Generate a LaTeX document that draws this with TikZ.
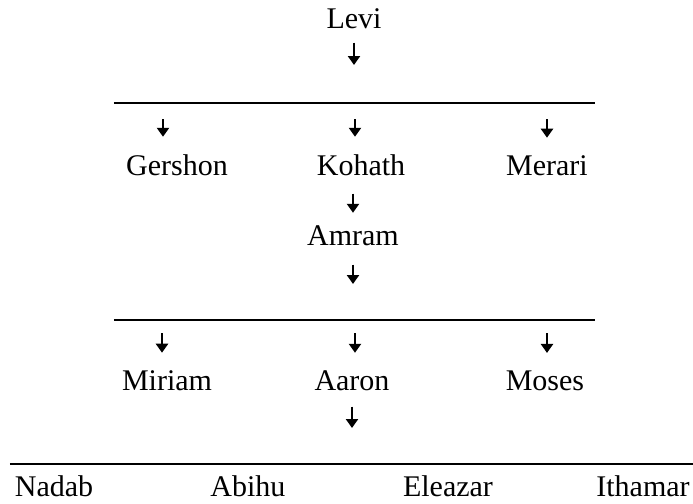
\documentclass[tikz,border=0pt]{standalone}
\usepackage{fontspec}
\setmainfont{Liberation Serif}
\usepackage{tikz}
\usetikzlibrary{arrows.meta}
\tikzstyle{person} = [inner sep=0pt, anchor=base, font=\fontsize{15}{18}\selectfont]
\tikzstyle{bar} = [line width=0.9pt]
\tikzstyle{arrow} = [line width=1.3pt, -{Triangle[width=6pt,length=4.5pt]}]

\begin{document}
\begin{tikzpicture}[x=0.5pt, y=-0.5pt]
            \useasboundingbox (0,0) rectangle (693,504);
            % generations
            \node (levi) [person] at (354,28) {Levi};
            \node (gershon) [person] at (177,175) {Gershon};
            \node (kohath) [person] at (361,175) {Kohath};
            \node (merari) [person] at (547,175) {Merari};
            \node (amram) [person] at (353,245) {Amram};
            \node (miriam) [person] at (167,390) {Miriam};
            \node (aaron) [person] at (352,390) {Aaron};
            \node (moses) [person] at (545,390) {Moses};
            \node (nadab) [person] at (54,496) {Nadab};
            \node (abihu) [person] at (248,496) {Abihu};
            \node (eleazar) [person] at (448,496) {Eleazar};
            \node (ithamar) [person] at (643,496) {Ithamar};

            % bars
            \draw [bar] (114,103) -- (595,103);
            \draw [bar] (114,320) -- (595,320);
            \draw [bar] (10,464) -- (693,464);
            \coordinate (bar1l) at (163,103);
            \coordinate (bar1m) at (355,103);
            \coordinate (bar1r) at (547,103);
            \coordinate (bar2l) at (162,320);
            \coordinate (bar2m) at (355,320);
            \coordinate (bar2r) at (547,320);
            \coordinate (bar3) at (354,464);

            \draw [arrow, shorten <=7pt, shorten >=19pt] (levi.south) -- (levi.south |- bar1m);
            \draw [arrow, shorten <=8pt, shorten >=8.5pt] (bar1l) -- (bar1l |- gershon.north);
            \draw [arrow, shorten <=8pt, shorten >=8.5pt] (bar1m) -- (bar1m |- kohath.north);
            \draw [arrow, shorten <=8pt, shorten >=8.5pt] (bar1r) -- (bar1r |- merari.north);
            \draw [arrow, shorten <=9pt, shorten >=6pt] (kohath.south -| amram.north) -- (amram.north);
            \draw [arrow, shorten <=9.5pt, shorten >=18pt] (amram.south) -- (amram.south |- bar2m);
            \draw [arrow, shorten <=6.5pt, shorten >=8.5pt] (bar2l) -- (bar2l |- miriam.north);
            \draw [arrow, shorten <=6.5pt, shorten >=8.5pt] (bar2m) -- (bar2m |- aaron.north);
            \draw [arrow, shorten <=6.5pt, shorten >=8.5pt] (bar2r) -- (bar2r |- moses.north);
            \draw [arrow, shorten <=8pt, shorten >=18pt] (aaron.south) -- (aaron.south |- bar3);
        \end{tikzpicture}
\end{document}
